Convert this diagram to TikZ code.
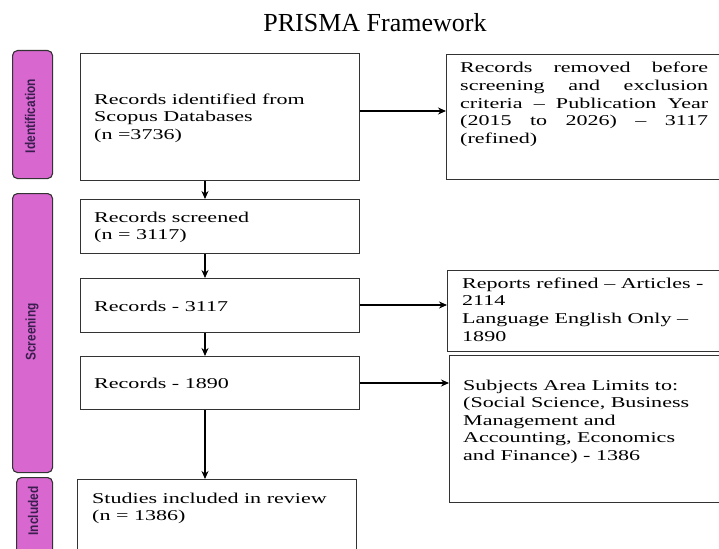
\documentclass[tikz,border=0pt]{standalone}
\usepackage{fontspec}
\setmainfont{Liberation Serif}
\newfontfamily\boxfont[FakeStretch=1.47]{Liberation Serif}
\newfontfamily\sidefont[FakeStretch=0.85]{Liberation Sans}
\usetikzlibrary{arrows.meta}
\definecolor{barfill}{HTML}{D867CF}
\definecolor{bartext}{HTML}{3A1E4E}
\definecolor{boxline}{HTML}{333333}
\begin{document}
\begin{tikzpicture}[x=1pt,y=-1pt,
 box/.style={draw=boxline, line width=1.2pt, anchor=north west, inner sep=0pt},
 bar/.style={draw=boxline, fill=barfill, rounded corners=5pt, line width=1.1pt, anchor=north west, inner sep=0pt},
 sidelbl/.style={rotate=90, font=\sidefont\bfseries\fontsize{14}{16}\selectfont, text=bartext, inner sep=0pt},
 txt/.style={anchor=north west, align=left, inner sep=0pt, font=\boxfont\fontsize{15}{17.6}\selectfont},
 arr/.style={-{Stealth[length=8pt,width=7pt]}, line width=1.1pt}
]
\useasboundingbox (0,0) rectangle (719,548);
\clip (0,0) rectangle (719,548);

% title
\node[anchor=base, inner sep=0pt, font=\fontsize{26}{30}\selectfont] (title) at (375,32) {PRISMA Framework};

% side bars
\node[bar, minimum width=40pt, minimum height=128pt] (barI) at (12,50) {};
\node[bar, minimum width=40pt, minimum height=279pt] (barS) at (12,193) {};
\node[bar, minimum width=36pt, minimum height=90pt] (barC) at (16,477) {};
\node[sidelbl] (lblI) at (30,116) {Identification};
\node[sidelbl] (lblS) at (32,332) {Screening};
\node[sidelbl] (lblC) at (33,511) {Included};

% main column boxes
\node[box, minimum width=279pt, minimum height=127pt] (b1) at (80,53) {};
\node[box, minimum width=279pt, minimum height=54pt] (b2) at (80,199) {};
\node[box, minimum width=279pt, minimum height=54pt] (b3) at (80,278) {};
\node[box, minimum width=279pt, minimum height=53pt] (b4) at (80,356) {};
\node[box, minimum width=279pt, minimum height=90pt] (b5) at (77,479) {};

% right boxes
\node[box, minimum width=300pt, minimum height=125pt] (r1) at (446,54) {};
\node[box, minimum width=300pt, minimum height=81pt] (r2) at (447,270) {};
\node[box, minimum width=300pt, minimum height=147pt] (r3) at (449,355) {};

% texts
\node[txt] (t1) at (94,93.5) {Records identified from\\Scopus Databases\\(n =3736)};
\node[txt] (t2) at (94,211.5) {Records screened\\(n = 3117)};
\node[txt] (t3) at (94,300.5) {Records - 3117};
\node[txt] (t4) at (94,377.5) {Records - 1890};
\node[txt] (t5) at (92,492.5) {Studies included in review\\(n = 1386)};

\node[txt] (tr1) at (460,62.2) {\makebox[248pt][s]{Records removed before}\\
\makebox[248pt][s]{screening and exclusion}\\
\makebox[248pt][s]{criteria – Publication Year}\\
\makebox[248pt][s]{(2015 to 2026) – 3117}\\
(refined)};
\node[txt] (tr2) at (462,277.5) {Reports refined – Articles -\\2114\\Language English Only –\\1890};
\node[txt] (tr3) at (463,379.5) {Subjects Area Limits to:\\(Social Science, Business\\Management and\\Accounting, Economics\\and Finance) - 1386};

% connectors
\coordinate (ax) at (205,0);
\coordinate (h1) at (0,111);
\coordinate (h2) at (0,305);
\coordinate (h3) at (0,383);
\draw[arr] (b1.south -| ax) -- (b2.north -| ax);
\draw[arr] (b2.south -| ax) -- (b3.north -| ax);
\draw[arr] (b3.south -| ax) -- (b4.north -| ax);
\draw[arr] (b4.south -| ax) -- (b5.north -| ax);
\draw[arr] (b1.east |- h1) -- (r1.west |- h1);
\draw[arr] (b3.east |- h2) -- (r2.west |- h2);
\draw[arr] (b4.east |- h3) -- (r3.west |- h3);
\end{tikzpicture}
\end{document}
